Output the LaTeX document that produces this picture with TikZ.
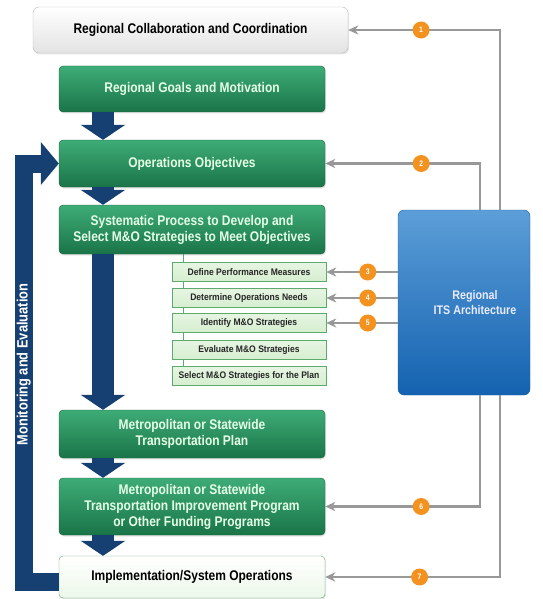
\documentclass[tikz,border=0pt]{standalone}
\usepackage{fontspec}
\setmainfont{Liberation Sans}[FakeStretch=0.857]
\newfontfamily\stepfont{Liberation Sans}[FakeStretch=0.9]
\usetikzlibrary{arrows.meta, positioning, shadows, backgrounds}
\usepackage{xcolor}

\definecolor{greenTop}{RGB}{62,172,118}
\definecolor{greenBot}{RGB}{26,116,72}
\definecolor{greenLine}{RGB}{92,170,110}
\definecolor{stepFill}{RGB}{214,238,208}
\definecolor{navyFlow}{RGB}{22,64,114}
\definecolor{itsTop}{RGB}{92,158,216}
\definecolor{itsBot}{RGB}{20,98,176}
\definecolor{dotOrange}{RGB}{244,146,32}
\definecolor{feedGray}{RGB}{152,152,152}

\tikzset{
    font=\bfseries,
    % Boxes
    stage/.style={rectangle, rounded corners=4pt, draw=greenBot!85!black,
                  top color=greenTop, bottom color=greenBot, text=white!90!green,
                  minimum width=266pt, align=center,
                  font=\fontsize{14}{16}\selectfont\bfseries,
                  drop shadow={opacity=0.2, shadow xshift=1pt, shadow yshift=-1.5pt}},
    topBox/.style={stage, draw=gray!55, top color=white, bottom color=gray!22,
                   text=black, rounded corners=6pt},
    implBox/.style={stage, draw=greenLine, top color=white, bottom color=stepFill!45,
                    text=black},
    stepBox/.style={rectangle, draw=greenLine, top color=stepFill!60, bottom color=stepFill,
                    minimum width=154pt, minimum height=19pt, inner sep=1pt,
                    font=\stepfont\fontsize{9.5}{10}\selectfont\bfseries, text=black!85},
    itsBox/.style={rectangle, rounded corners=6pt, draw=itsBot, top color=itsTop,
                   bottom color=itsBot, minimum width=132pt, minimum height=185pt,
                   align=center, text=white!92!blue,
                   font=\fontsize{12.5}{15}\selectfont\bfseries},
    numDot/.style={circle, fill=dotOrange, text=white, inner sep=0pt,
                   minimum size=17pt, font=\fontsize{8}{8}\selectfont\bfseries},
    % Flow
    bigFlow/.style={draw=navyFlow, line width=22pt,
                    -{Triangle[width=44pt, length=15pt]}},
    loopBand/.style={draw=navyFlow, line width=18pt, line join=miter,
                     -{Triangle[width=42pt, length=18pt]}},
    feed/.style={draw=feedGray, line width=2.2pt,
                 -{Stealth[length=10pt, width=9pt, inset=3pt]}},
    loopLbl/.style={rotate=90, text=white, font=\fontsize{15}{15}\selectfont\bfseries}
}

\begin{document}
\begin{tikzpicture}[x=1pt, y=-1pt]
\useasboundingbox (0,0) rectangle (542,599);

\coordinate (ax) at (103,0);
\coordinate (lA) at (500,0);
\coordinate (lB) at (480,0);

\node[topBox, minimum width=315pt, minimum height=46pt] (collab) at (190.5,30) {Regional Collaboration and Coordination};
\node[stage, minimum height=46pt] (goals) at (192,89) {Regional Goals and Motivation};
\node[stage, minimum height=47pt] (obj) at (192,163.5) {Operations Objectives};
\node[stage, minimum height=49pt] (proc) at (192,229.5) {Systematic Process to Develop and\\Select M\&O Strategies to Meet Objectives};

\foreach \y/\name/\txt in {272/s1/Define Performance Measures,
                           298/s2/Determine Operations Needs,
                           323/s3/Identify M\&O Strategies,
                           350/s4/Evaluate M\&O Strategies,
                           376/s5/Select M\&O Strategies for the Plan}
    \node[stepBox] (\name) at (249,\y) {\txt};

\node[stage, minimum height=48pt] (plan) at (192,434) {Metropolitan or Statewide\\Transportation Plan};
\node[stage, minimum height=57pt] (tip) at (192,506.5) {Metropolitan or Statewide\\Transportation Improvement Program\\or Other Funding Programs};
\node[implBox, minimum height=42pt] (impl) at (192,577) {Implementation/System Operations};
\node[itsBox] (its) at (464,302.5) {\hspace*{22pt}Regional\\\hspace*{22pt}ITS Architecture};

\begin{scope}[on background layer]
\draw[greenLine, line width=1pt] (proc.south -| 183,0) -- (s5.center -| 183,0);
\end{scope}

% main flow
\draw[bigFlow] (goals.south -| ax) -- (obj.north -| ax);
\draw[bigFlow] (obj.south -| ax) -- (proc.north -| ax);
\draw[bigFlow] (proc.south -| ax) -- (plan.north -| ax);
\draw[bigFlow] (plan.south -| ax) -- (tip.north -| ax);
\draw[bigFlow] (tip.south -| ax) -- (impl.north -| ax);

% monitoring loop
\draw[loopBand] ([yshift=-5pt]impl.west) -- ++(-35,0)
    |- node[loopLbl, pos=0.26] {Monitoring and Evaluation} (obj.west);

% architecture feeds
\draw[feed] (its.north -| lA) |- (collab.east) node[numDot, pos=0.76] {1};
\draw[feed] (its.north -| lB) |- (obj.east) node[numDot, pos=0.69] {2};
\foreach \s/\n in {s1/3, s2/4, s3/5}
    \draw[feed] (its.west |- \s) -- (\s.east) node[numDot, pos=0.42] {\n};
\draw[feed] (its.south -| lB) |- (tip.east) node[numDot, pos=0.69] {6};
\draw[feed] (its.south -| lA) |- (impl.east) node[numDot, pos=0.73] {7};

\end{tikzpicture}
\end{document}
